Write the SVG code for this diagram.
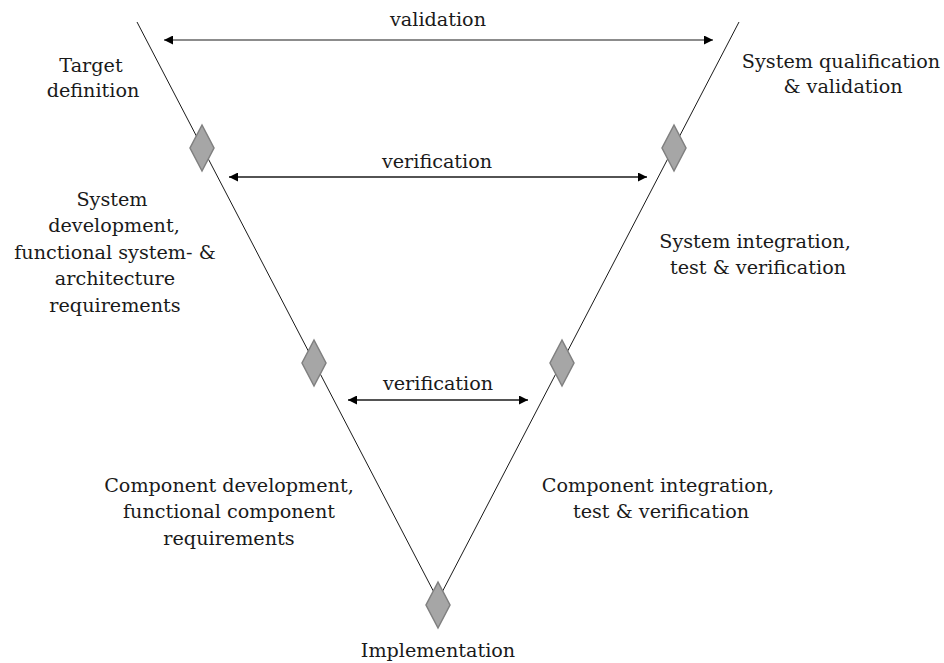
<svg xmlns="http://www.w3.org/2000/svg" width="944" height="663" viewBox="0 0 944 663">
  <defs>
    <style>
      text { font-family: 'DejaVu Serif', 'Noto Serif', 'Liberation Serif', serif; font-size: 19.2px; fill: #1a1a1a; text-anchor: middle; }
      .vline { stroke: #1a1a1a; stroke-width: 1; fill: none; }
      .gate { fill: #a6a6a6; stroke: #808080; stroke-width: 1.5; }
      .arr { stroke: #1a1a1a; stroke-width: 1.3; fill: none; marker-start: url(#head); marker-end: url(#head); }
      .arr.grey { stroke: #8c8c8c; stroke-width: 2; }
    </style>
    <marker id="head" viewBox="0 0 10 10" refX="10" refY="5" markerWidth="10" markerHeight="9" markerUnits="userSpaceOnUse" orient="auto-start-reverse">
      <path d="M0,0 L10,5 L0,10 z" fill="#000"/>
    </marker>
    <path id="diamond" d="M0,-23 L12,0 L0,23 L-12,0 z"/>
  </defs>
  <rect width="944" height="663" fill="#ffffff"/>

  <!-- V outline and horizontal check arrows -->
  <g id="connectors">
    <path class="vline" d="M137,22 L438,600 L739,22"/>
    <line class="arr grey" x1="164" y1="40" x2="713" y2="40"/>
    <line class="arr" x1="229" y1="177" x2="647" y2="177"/>
    <line class="arr" x1="348" y1="400" x2="528" y2="400"/>
  </g>

  <!-- labels on the arrows -->
  <g id="edge-labels">
    <text x="438" y="26">validation</text>
    <text x="437" y="168">verification</text>
    <text x="438" y="390">verification</text>
  </g>

  <!-- left branch -->
  <g id="target-definition">
    <text x="91" y="72">Target</text>
    <text x="93" y="97">definition</text>
  </g>
  <g id="gate-system-left">
    <use href="#diamond" class="gate" x="202" y="148"/>
  </g>
  <g id="system-development">
    <text x="112" y="206">System</text>
    <text x="114" y="232">development,</text>
    <text x="115" y="259">functional system- &amp;</text>
    <text x="115" y="285">architecture</text>
    <text x="115" y="312">requirements</text>
  </g>
  <g id="gate-component-left">
    <use href="#diamond" class="gate" x="314" y="363"/>
  </g>
  <g id="component-development">
    <text x="229" y="492">Component development,</text>
    <text x="229" y="518">functional component</text>
    <text x="229" y="545">requirements</text>
  </g>

  <!-- bottom -->
  <g id="implementation">
    <use href="#diamond" class="gate" x="438" y="605"/>
    <text x="438" y="657">Implementation</text>
  </g>

  <!-- right branch -->
  <g id="component-integration">
    <text x="658" y="492">Component integration,</text>
    <text x="661" y="518">test &amp; verification</text>
  </g>
  <g id="gate-component-right">
    <use href="#diamond" class="gate" x="562" y="363"/>
  </g>
  <g id="system-integration">
    <text x="755" y="248">System integration,</text>
    <text x="758" y="274">test &amp; verification</text>
  </g>
  <g id="gate-system-right">
    <use href="#diamond" class="gate" x="674" y="148"/>
  </g>
  <g id="system-qualification">
    <text x="841" y="68">System qualification</text>
    <text x="843" y="93">&amp; validation</text>
  </g>
</svg>
